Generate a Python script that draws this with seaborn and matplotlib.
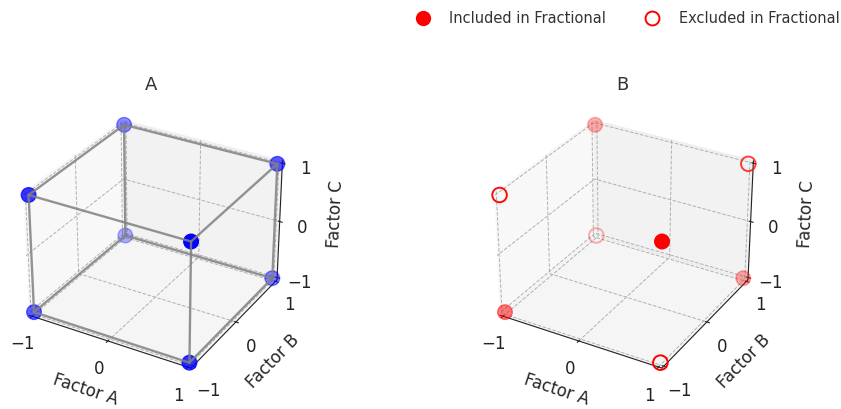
import numpy as np
import pandas as pd
import seaborn as sns
import matplotlib
matplotlib.use("Agg")
import matplotlib.pyplot as plt
from matplotlib.lines import Line2D

# Coded levels of the 2^3 full factorial design
factor_a = [-1, 1, -1, 1, -1, 1, -1, 1]
factor_b = [-1, -1, 1, 1, -1, -1, 1, 1]
factor_c = [-1, -1, -1, -1, 1, 1, 1, 1]
# Runs kept in the half fraction (defining relation I = -ABC)
included = [True, False, False, True, False, True, True, False]

tick_values = [-1, 0, 1]
axis_labels = ["Factor A", "Factor B", "Factor C"]
panel_titles = ["A", "B"]
legend_labels = ["Included in Fractional", "Excluded in Fractional"]

design = pd.DataFrame({"A": factor_a, "B": factor_b, "C": factor_c, "inc": included})

sns.set_style("whitegrid")
plt.rcParams["font.family"] = ["DejaVu Sans"]
plt.rcParams["grid.linestyle"] = "--"
plt.rcParams["grid.color"] = "#b0b0b0"
plt.rcParams["grid.linewidth"] = 0.8
plt.rcParams["axes.edgecolor"] = "#222222"
plt.rcParams["xtick.color"] = "#222222"
plt.rcParams["ytick.color"] = "#222222"

fig = plt.figure(figsize=(8.41, 4.09), dpi=100)
ax1 = fig.add_axes([-0.013, 0.0555, 0.386, 0.705], projection="3d")
ax2 = fig.add_axes([0.547, 0.0555, 0.386, 0.705], projection="3d")

pad = 2.0 / 48


def style_axes(ax, title):
    ax.set_xlim(-1 - pad, 1 + pad)
    ax.set_ylim(-1 - pad, 1 + pad)
    ax.set_zlim(-1 - pad, 1 + pad)
    ax.set_xticks(tick_values)
    ax.set_yticks(tick_values)
    ax.set_zticks(tick_values)
    ax.set_xlabel(axis_labels[0], fontsize=12, labelpad=4)
    ax.set_ylabel(axis_labels[1], fontsize=12, labelpad=4)
    ax.set_zlabel(axis_labels[2], fontsize=12, labelpad=4)
    ax.tick_params(labelsize=12, pad=2)
    ax.set_title(title, fontsize=13, color="#333333", y=1.087)
    for axis in (ax.xaxis, ax.yaxis, ax.zaxis):
        axis._axinfo["grid"]["linestyle"] = "--"
        axis._axinfo["grid"]["color"] = "#b0b0b0"
        axis._axinfo["grid"]["linewidth"] = 0.7
        axis._axinfo["axisline"]["color"] = "#222222"


# Panel A: full factorial cube
edges = []
pts = design[["A", "B", "C"]].to_numpy()
for i in range(len(pts)):
    for j in range(i + 1, len(pts)):
        if np.sum(pts[i] != pts[j]) == 1:
            edges.append((pts[i], pts[j]))
for p, q in edges:
    ax1.plot([p[0], q[0]], [p[1], q[1]], [p[2], q[2]], color="gray", lw=1.7, alpha=0.85)
ax1.scatter(design["A"], design["B"], design["C"], color="blue", s=110, depthshade=True)
style_axes(ax1, panel_titles[0])

# Panel B: half fraction
inc = design[design["inc"]]
exc = design[~design["inc"]]
ax2.scatter(inc["A"], inc["B"], inc["C"], color="red", s=110, depthshade=True)
ax2.scatter(exc["A"], exc["B"], exc["C"], facecolors="none", edgecolors="red",
            s=110, linewidths=1.4, depthshade=True)
style_axes(ax2, panel_titles[1])

handles = [
    Line2D([0], [0], marker="o", linestyle="none", markerfacecolor="red",
           markeredgecolor="red", markersize=10),
    Line2D([0], [0], marker="o", linestyle="none", markerfacecolor="none",
           markeredgecolor="red", markeredgewidth=1.4, markersize=10),
]
fig.legend(handles, legend_labels, loc="upper right", ncol=2, frameon=False,
           fontsize=10.5, bbox_to_anchor=(1.005, 0.988), borderaxespad=0,
           columnspacing=2.2, handletextpad=0.8, labelcolor="#333333")

fig.savefig("out.png", dpi=100)
